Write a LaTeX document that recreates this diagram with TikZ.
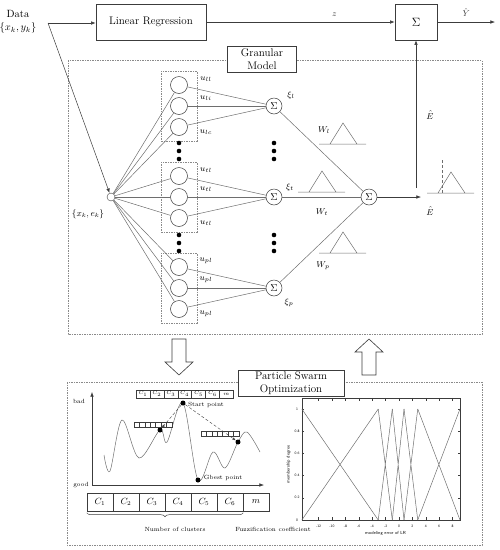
\RequirePackage{fix-cm}
\documentclass[tikz,border=0pt]{standalone}
\usepackage{amsmath,amssymb}
\usepackage{tikz}
\usetikzlibrary{arrows.meta,positioning,calc,fit,decorations.pathreplacing}
\definecolor{GDark}{HTML}{3C3C3C}
\definecolor{GLine}{HTML}{6E6E6E}
\definecolor{GDash}{HTML}{8A8A8A}

\tikzset{
  hollowarrow/.pic={\draw[GDark,fill=white,line width=0.6pt] (-7,0) -- (7,0) -- (7,23) -- (14,23) -- (0,36) -- (-14,23) -- (-7,23) -- cycle;},
  mftri/.pic={\draw[GLine,line width=0.5pt] (-24,0) -- (23,0) (-13,0) -- (0,-21) -- (14,0);}
}

\begin{document}
\begin{tikzpicture}[x=1pt,y=-1pt,
  every node/.style={font=\fontsize{11}{12.5}\selectfont},
  box/.style={draw=GDark,fill=white,align=center,inner sep=1pt,line width=0.6pt},
  neuron/.style={circle,draw=GDark,minimum size=17pt,inner sep=0pt,line width=0.5pt},
  sumnode/.style={circle,draw=GDark,fill=white,minimum size=16pt,inner sep=0pt,line width=0.5pt,font=\fontsize{10}{11}\selectfont},
  grp/.style={draw=GDash,dash pattern=on 1.5pt off 1pt,inner xsep=9pt,inner ysep=5pt},
  frame/.style={draw=GDash,dash pattern=on 1.5pt off 1pt},
  link/.style={GLine,line width=0.5pt},
  arr/.style={-{Latex[length=1.6mm,width=1.2mm]},GDark,line width=0.5pt},
  dotarr/.style={-{Latex[length=1.2mm,width=0.9mm]},GDark,densely dashed,line width=0.4pt},
  ulab/.style={font=\fontsize{8.5}{9}\selectfont,inner sep=1pt},
  smalltxt/.style={font=\fontsize{6}{7}\selectfont,inner sep=1pt},
  tinytxt/.style={font=\sffamily\fontsize{3.6}{4}\selectfont,inner sep=0pt},
  bigdot/.style={circle,fill=black,minimum size=5pt,inner sep=0pt},
  pcell/.style={draw=GDark,minimum width=13.9pt,minimum height=8pt,inner sep=0pt,font=\fontsize{5}{5}\selectfont},
  scell/.style={draw=GDark,minimum width=5.4pt,minimum height=5pt,inner sep=0pt,line width=0.4pt},
  bcell/.style={draw=GDark,minimum width=26pt,minimum height=18pt,inner sep=0pt,font=\fontsize{9}{10}\selectfont}
]
\useasboundingbox (0,0) rectangle (500,550);
\draw[frame] (68,60) rectangle (482,334);
\draw[frame] (67,382) rectangle (482,545);

\node[align=center,font=\fontsize{10.5}{12}\selectfont] (data) at (18,22) {Data\\[1pt]$\{x_k,y_k\}$};
\coordinate (split) at (48,23);
\node[box,minimum width=110pt,minimum height=36pt] (lr) at (151,22) {Linear Regression};
\node[box,minimum width=42pt,minimum height=36pt,font=\fontsize{12}{12}\selectfont] (sumy) at (416,22) {$\Sigma$};
\coordinate (yout) at (495,22);
\draw[arr] (split) -- (split -| lr.west);
\draw[arr] (lr) -- node[above=4pt,pos=0.68,ulab] (zlab) {$z$} (sumy);
\draw[arr] (sumy) -- node[above=4pt,ulab] (ylab) {$\hat{Y}$} (yout);
\node[box,minimum width=69pt,minimum height=26pt] (gm) at (262,59) {Granular\\Model};

\node[circle,draw=GDark,minimum size=8pt,inner sep=0pt] (xin) at (111,197) {};
\node[ulab,font=\fontsize{9}{10}\selectfont] (xelab) at (88,214) {$\{x_k,e_k\}$};
\draw[arr] (split) -- (xin);
\node[sumnode] (sout) at (369,197) {$\Sigma$};

\foreach \g/\y/\a/\b/\c in {l/106/ll/li/lc, t/197/tl/tl/tl, p/288/pl/pl/pl}{
  \node[neuron] (n\g1) at (179,\y-21) {};
  \node[neuron] (n\g2) at (179,\y) {};
  \node[neuron] (n\g3) at (179,\y+21) {};
  \node[grp,fit=(n\g1)(n\g3)] (grp\g) {};
  \node[sumnode] (s\g) at (274,\y) {$\Sigma$};
  \node[ulab] (u\g1) at (206,\y-27) {$u_{\a}$};
  \node[ulab] (u\g2) at (206,\y-8) {$u_{\b}$};
  \node[ulab] (u\g3) at (206,\y+26) {$u_{\c}$};
  \foreach \i in {1,2,3}{\draw[link] (xin) -- (n\g\i); \draw[link] (n\g\i) -- (s\g);}
  \draw[link] (s\g) -- (sout);
}
\foreach \y in {143,151,159,235,243,251}{\fill (179,\y) circle (2.3); \fill (274,\y) circle (2.3);}
\node[ulab] (xil) at (291,95) {$\xi_l$};
\node[ulab] (xit) at (290,187) {$\xi_t$};
\node[ulab] (xip) at (289,303) {$\xi_p$};

\pic at (343,144) {mftri};
\pic at (322,192) {mftri};
\pic at (343,253) {mftri};
\pic at (451,193) {mftri};
\draw[GLine,densely dashed,line width=0.4pt] (442,160) -- (442,193);
\node[ulab] (wl) at (324,130) {$W_l$};
\node[ulab] (wt) at (322,212) {$W_t$};
\node[ulab] (wp) at (323,266) {$W_p$};

\coordinate (ehat) at (421,197);
\coordinate (efoot) at (416,188);
\draw[arr] (sout) -- (ehat);
\draw[arr] (efoot) -- (sumy);
\node[ulab] (elo) at (430,211) {$\hat{E}$};
\node[ulab] (eup) at (430,115) {$\hat{E}$};

\pic at (179,339) {hollowarrow};
\pic[rotate=180] at (369,375) {hollowarrow};

\node[box,minimum width=106pt,minimum height=26pt] (pso) at (291,383) {Particle Swarm\\Optimization};

\coordinate (org) at (92,485);
\coordinate (ytop) at (92,392);
\coordinate (xend) at (264,485);
\draw[arr] (org) -- (ytop);
\draw[arr] (org) -- (xend);
\node[smalltxt] (bad) at (79,401) {bad};
\node[smalltxt] (good) at (81,485) {good};
\draw[GLine,line width=0.5pt] plot[smooth,tension=0.55] coordinates {(104,455) (110,471) (122,420) (139,458) (160,430) (167,442) (183,403) (198,480) (213,452) (225,468) (238,442) (247,432) (260,452)};
\node[bigdot] (pstart) at (183,403) {};
\node[bigdot] (pleft) at (160,430) {};
\node[bigdot] (pright) at (238,442) {};
\node[bigdot] (pbest) at (198,480) {};
\node[smalltxt] (stlab) at (206,405) {Start point};
\node[smalltxt] (gblab) at (223,478) {Gbest point};
\foreach \i/\t in {1/$C_1$,2/$C_2$,3/$C_3$,4/$C_4$,5/$C_5$,6/$C_6$,7/$m$}
  \node[pcell] (tc\i) at ({129.05+13.9*\i},394) {\t};
\foreach \i in {1,...,7}{
  \node[scell] (lc\i) at ({134+5.4*(\i-0.5)},424.5) {};
  \node[scell] (rc\i) at ({201+5.4*(\i-0.5)},433.5) {};
}
\draw[dotarr] (pstart) -- (pleft);
\draw[dotarr] (pstart) -- (pright);

\foreach \i/\t in {1/$C_1$,2/$C_2$,3/$C_3$,4/$C_4$,5/$C_5$,6/$C_6$,7/$m$}
  \node[bcell] (bc\i) at ({74+26*\i},502) {\t};
\draw[GDark,line width=0.5pt,decorate,decoration={brace,mirror,amplitude=4pt}] ([yshift=-1.5pt]bc1.south west) -- ([yshift=-1.5pt]bc6.south east);
\node[smalltxt] (ncl) at (175,529) {Number of clusters};
\node[smalltxt] (fzc) at (273,529) {Fuzzification coefficient};

\begin{scope}[xshift=399pt,yshift=-520pt,x=6.7pt,y=111pt]
\draw[GDark,line width=0.4pt] (-14.5,0) rectangle (9.1,1.1);
\foreach \t in {-12,-10,...,8}{
  \draw[GDark,line width=0.3pt] (\t,0) -- (\t,0.025) (\t,1.1) -- (\t,1.075);
  \node[tinytxt] (xt\t) at (\t,-0.055) {\t};
}
\foreach \t in {0,0.2,0.4,0.6,0.8,1}{
  \draw[GDark,line width=0.3pt] (-14.5,\t) -- (-14.2,\t) (9.1,\t) -- (8.8,\t);
  \node[tinytxt] (yt\t) at (-15.2,\t) {\t};
}
\foreach \a/\b in {-14.5/-3.1,-3.1/-1.0,-1.0/0.75,0.75/2.8,2.8/9.1}
  \draw[GLine,line width=0.5pt] (\a,1) -- (\b,0) (\a,0) -- (\b,1);
\node[tinytxt,font=\sffamily\fontsize{4.4}{5}\selectfont,rotate=90] (mdeg) at (-16.5,0.5) {membership degree};
\node[tinytxt,font=\sffamily\fontsize{4.4}{5}\selectfont] (merr) at (-2,-0.12) {modeling error of LR};
\end{scope}
\end{tikzpicture}
\end{document}
